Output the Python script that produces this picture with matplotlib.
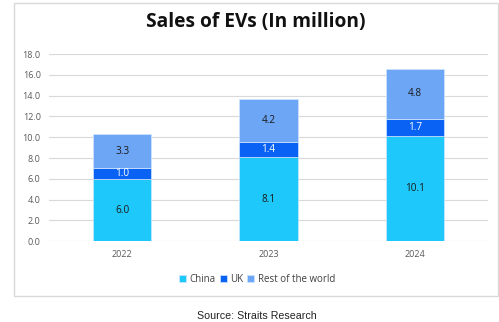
import matplotlib
matplotlib.use("Agg")
import matplotlib.pyplot as plt
from matplotlib.patches import Rectangle
import numpy as np

years = ["2022", "2023", "2024"]
china = [6.0, 8.1, 10.1]
uk = [1.0, 1.4, 1.7]
rest = [3.3, 4.2, 4.8]
series_names = ["China", "UK", "Rest of the world"]
yticks = [0, 2, 4, 6, 8, 10, 12, 14, 16, 18]

colors = ["#1ec8fb", "#0a62f5", "#6ea6f6"]
label_colors = ["#1a1a1a", "white", "#1a1a1a"]

fig = plt.figure(figsize=(4.99, 3.22), dpi=100)
W, H = 499, 322

# outer box
fig.patches.append(Rectangle((14 / W, 26 / H), (498 - 14) / W, (319 - 26) / H,
                             transform=fig.transFigure, fill=False,
                             edgecolor="#d9d9d9", linewidth=1.0))

ax = fig.add_axes([49 / W, (H - 241.3) / H, (488 - 49) / W, (241.3 - 54) / H])
x = np.arange(len(years))
bottom = np.zeros(len(years))
for vals, c, lc, name in zip([china, uk, rest], colors, label_colors, series_names):
    ax.bar(x, vals, width=0.4, bottom=bottom, color=c, edgecolor="#cfe6ff",
           linewidth=0.5, label=name, zorder=3)
    for xi, b, v in zip(x, bottom, vals):
        ax.text(xi, b + v / 2, f"{v:.1f}", ha="center", va="center", fontsize=7.2,
                color=lc, family="Open Sans", zorder=4)
    bottom = bottom + np.array(vals)

ax.set_xlim(-0.5, 2.5)
ax.set_ylim(0, 18)
ax.set_yticks(yticks)
ax.set_yticklabels([f"{t:.1f}" for t in yticks], fontsize=6.5, color="#595959", family="Open Sans")
ax.set_xticks(x)
ax.set_xticklabels(years, fontsize=6.5, color="#595959", family="Open Sans")
ax.tick_params(length=0, pad=6)
for s in ax.spines.values():
    s.set_visible(False)
ax.grid(axis="y", color="#d9d9d9", linewidth=0.8, zorder=0)
ax.set_axisbelow(True)

fig.text(256 / W, 1 - 22 / H, "Sales of EVs (In million)", ha="center", va="center",
         fontsize=13.8, fontweight="bold", family="Open Sans", color="#111111")

leg = fig.legend(loc="center", bbox_to_anchor=(257 / W, 1 - 279 / H), ncol=3, frameon=False,
                 prop={"family": "Open Sans", "size": 7}, handlelength=0.7, handleheight=0.7,
                 handletextpad=0.35, columnspacing=0.45)
for t in leg.get_texts():
    t.set_color("#404040")

fig.text(257 / W, 1 - 316 / H, "Source: Straits Research", ha="center", va="center",
         fontsize=7.7, family="Liberation Sans", color="#222222")

fig.savefig("out.png", dpi=100)
